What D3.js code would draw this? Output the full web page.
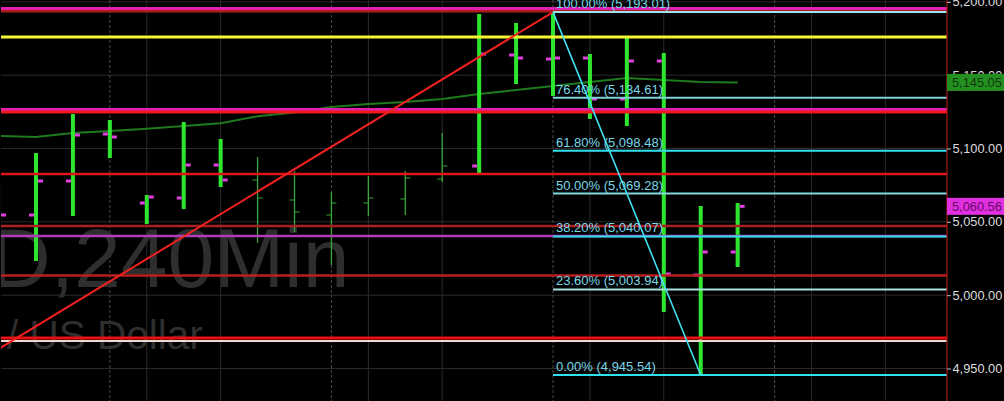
<!DOCTYPE html>
<html><head><meta charset="utf-8">
<script src="https://cdn.jsdelivr.net/npm/d3@7"></script>
<style>html,body{margin:0;padding:0;background:#000;overflow:hidden}</style>
</head><body>
<svg id="chart" width="1004" height="401"></svg>
<script>
// ---- data ----
const times = ["03-26 12:00","03-26 16:00","03-26 20:00","03-27 00:00","03-27 04:00","03-27 08:00","03-27 12:00",
  "03-27 16:00","03-27 20:00","03-28 00:00","03-28 04:00","03-28 08:00","03-28 12:00",
  "03-28 16:00","03-28 20:00","03-29 00:00","03-29 04:00","03-29 08:00","03-29 12:00","03-29 16:00","03-29 20:00"];
const futureTimes = ["03-30 00:00","03-30 04:00","03-30 08:00","03-30 12:00","03-30 16:00"];
const open  = [5066.00,5054.66,5077.84,5109.89,5062.84,5066.25,5088.75,5078.52,5064.89,5054.66,5062.84,5065.57,5079.20,5088.07,5163.75,5161.02,5161.70,5133.75,5159.66,5013.75,5029.43];
const high  = [5076.00,5096.93,5123.52,5119.43,5068.30,5118.07,5106.48,5094.20,5084.66,5070.34,5081.25,5084.66,5110.57,5191.70,5185.57,5193.01,5164.43,5175.34,5165.11,5060.80,5062.84];
const low   = [5046.00,5023.30,5053.98,5093.52,5048.52,5058.75,5073.75,5035.57,5043.07,5020.57,5053.98,5054.66,5077.16,5083.30,5143.98,5135.80,5120.11,5115.34,4988.52,4945.54,5019.20];
const close = [5054.66,5077.84,5109.20,5107.84,5066.93,5088.75,5078.52,5066.25,5056.70,5062.84,5066.25,5079.89,5088.07,5164.43,5161.70,5161.70,5133.75,5159.66,5014.43,5029.43,5060.56];
const session = ["regular","regular","regular","regular","regular","regular","regular",
  "holiday","holiday","holiday","holiday","holiday","holiday",
  "regular","regular","regular","regular","regular","regular","regular","regular"];
const movingAvg = [5108.5,5107.8,5110.6,5111.9,5113.5,5115.3,5117.2,5122.0,5124.5,5128.3,5130.3,5131.7,5133.7,5137.2,5139.9,5142.6,5145.3,5148.1,5146.7,5145.3,5145.05];
const levelPrices = [5195.45,5193.6,5176.0,5126.6,5124.9,5082.6,5047.2,5040.3,5013.4,4970.8,4968.7];
const fibRatios = [1,0.764,0.618,0.5,0.382,0.236,0];
const fibPrices = [5193.01,5134.61,5098.48,5069.28,5040.07,5003.94,4945.54];
const trendStart = {time:"03-26 12:00", price:4963.5};
const trendEnd   = {time:"03-29 00:00", price:5193.01};
const fibStart = {time:"03-29 00:00", price:5193.01};
const fibEnd   = {time:"03-29 16:00", price:4945.54};
const yTicks = [4950,5000,5050,5100,5150,5200];
const lastPrice = 5060.56;
const lastAvg = 5145.05;
const watermark1 = "D,240Min";
const watermark2 = "/ US Dollar";

// ---- styles ----
const levelStyles = [
  {c:"#e020b0",w:3},{c:"#b01c1c",w:2.5},{c:"#f5f532",w:3},{c:"#e020b0",w:3},{c:"#f01818",w:3},
  {c:"#e01515",w:2.5},{c:"#a82020",w:2.5},{c:"#b03cb8",w:2.5},{c:"#b82020",w:2.5},{c:"#e81010",w:3},{c:"#f0d8d0",w:2}
];
const fibColors = ["#a0e2ea","#80d0d8","#30e0f0","#80d8e0","#30e0f0","#a8e0e0","#30e0f0"];
const font = "'Liberation Sans', Arial, sans-serif";

const W = 1004, H = 401, axisX = 947;
const svg = d3.select("#chart");
svg.append("rect").attr("width",W).attr("height",H).attr("fill","#000");

const allTimes = times.concat(futureTimes);
const x = d3.scalePoint().domain(allTimes).range([-0.93, 922.3]);
const y = d3.scaleLinear().domain([4927.85, 5201.25]).range([H, 0]);

svg.append("clipPath").attr("id","plot").append("rect").attr("x",1).attr("y",0).attr("width",axisX-1).attr("height",H);
const g = svg.append("g").attr("clip-path","url(#plot)");

// grid
g.selectAll("line.hg").data(yTicks).join("line")
  .attr("x1",0).attr("x2",axisX).attr("y1",d=>y(d)).attr("y2",d=>y(d))
  .attr("stroke","#2a2a2a").attr("stroke-width",1);
const gridTimes = allTimes.filter(t => /(00:00|04:00|12:00)$/.test(t));
g.selectAll("line.vg").data(gridTimes).join("line")
  .attr("x1",d=>x(d)).attr("x2",d=>x(d)).attr("y1",0).attr("y2",H)
  .attr("stroke",d=>d.endsWith("00:00")?"#4a4a4a":"#2a2a2a")
  .attr("stroke-dasharray",d=>d.endsWith("00:00")?"3,2":null);

// watermark
g.append("text").attr("x",-10).attr("y",287).attr("font-family",font).attr("font-size",84)
  .attr("fill","#2e2e2e").text(watermark1);
g.append("text").attr("x",7).attr("y",349).attr("font-family",font).attr("font-size",40.5)
  .attr("fill","#2e2e2e").text(watermark2);

// moving average
g.append("path").datum(times.map((t,i)=>[t,movingAvg[i]]))
  .attr("fill","none").attr("stroke","#1f7a1f").attr("stroke-width",2)
  .attr("d", d3.line().x(d=>x(d[0])).y(d=>y(d[1])));

// bars
const bars = times.map((t,i)=>({t,o:open[i],h:high[i],l:low[i],c:close[i],s:session[i]}));
const bg = g.append("g");
bars.forEach(b=>{
  const cx = x(b.t);
  if (b.s === "regular") {
    bg.append("rect").attr("x",cx-2).attr("width",4).attr("y",y(b.h)).attr("height",y(b.l)-y(b.h)).attr("fill","#2fe62f");
    bg.append("rect").attr("x",cx-7).attr("width",5).attr("y",y(b.o)-1.5).attr("height",3).attr("fill","#e040e0");
    bg.append("rect").attr("x",cx+2).attr("width",5).attr("y",y(b.c)-1.5).attr("height",3).attr("fill","#e040e0");
  } else {
    bg.append("line").attr("x1",cx).attr("x2",cx).attr("y1",y(b.h)).attr("y2",y(b.l)).attr("stroke","#37a837").attr("stroke-width",1.3);
    bg.append("line").attr("x1",cx-5).attr("x2",cx).attr("y1",y(b.o)).attr("y2",y(b.o)).attr("stroke","#37a837").attr("stroke-width",1);
    bg.append("line").attr("x1",cx).attr("x2",cx+5).attr("y1",y(b.c)).attr("y2",y(b.c)).attr("stroke","#37a837").attr("stroke-width",1);
  }
});

// horizontal levels
g.selectAll("line.lv").data(levelPrices).join("line")
  .attr("x1",0).attr("x2",axisX).attr("y1",d=>y(d)).attr("y2",d=>y(d))
  .attr("stroke",(d,i)=>levelStyles[i].c).attr("stroke-width",(d,i)=>levelStyles[i].w);

// trend line
g.append("line").attr("x1",x(trendStart.time)).attr("y1",y(trendStart.price))
  .attr("x2",x(trendEnd.time)).attr("y2",y(trendEnd.price)).attr("stroke","#f02020").attr("stroke-width",2);

// fib
const fx = x(fibStart.time);
g.selectAll("line.fib").data(fibPrices).join("line")
  .attr("x1",fx).attr("x2",axisX).attr("y1",d=>y(d)).attr("y2",d=>y(d))
  .attr("stroke",(d,i)=>fibColors[i]).attr("stroke-width",2);
g.append("line").attr("x1",fx).attr("y1",y(fibStart.price)).attr("x2",x(fibEnd.time)).attr("y2",y(fibEnd.price))
  .attr("stroke","#40e0f0").attr("stroke-width",1.6);
const fmt = d3.format(",.2f");
g.selectAll("text.fib").data(fibPrices).join("text")
  .attr("x",fx+3).attr("y",d=>y(d)-4).attr("font-family",font).attr("font-size",13)
  .attr("fill","#7ad8e8").text((d,i)=>`${(fibRatios[i]*100).toFixed(2)}% (${fmt(d)})`);

// axis
svg.append("line").attr("x1",axisX).attr("x2",axisX).attr("y1",0).attr("y2",H).attr("stroke","#a81c1c").attr("stroke-width",1.2);
const ax = svg.append("g").attr("transform",`translate(${axisX},0)`)
  .call(d3.axisRight(y).tickValues(yTicks).tickFormat(fmt).tickSize(4).tickPadding(1.5));
ax.select(".domain").remove();
ax.selectAll(".tick line").attr("stroke","#bbb");
ax.selectAll(".tick text").attr("fill","#dcdcdc").attr("font-family",font).attr("font-size",12.8);

// price boxes
function box(val, bgc, fg){
  const yy = y(val);
  svg.append("rect").attr("x",axisX).attr("y",yy-8.5).attr("width",W-axisX).attr("height",17).attr("fill",bgc);
  svg.append("text").attr("x",axisX+5).attr("y",yy).attr("dy","0.36em").attr("font-family",font)
    .attr("font-size",12.8).attr("fill",fg).text(fmt(val));
}
box(lastAvg,"#23901f","#0e3a0e");
box(lastPrice,"#e030e0","#6a086a");
</script>
</body></html>
